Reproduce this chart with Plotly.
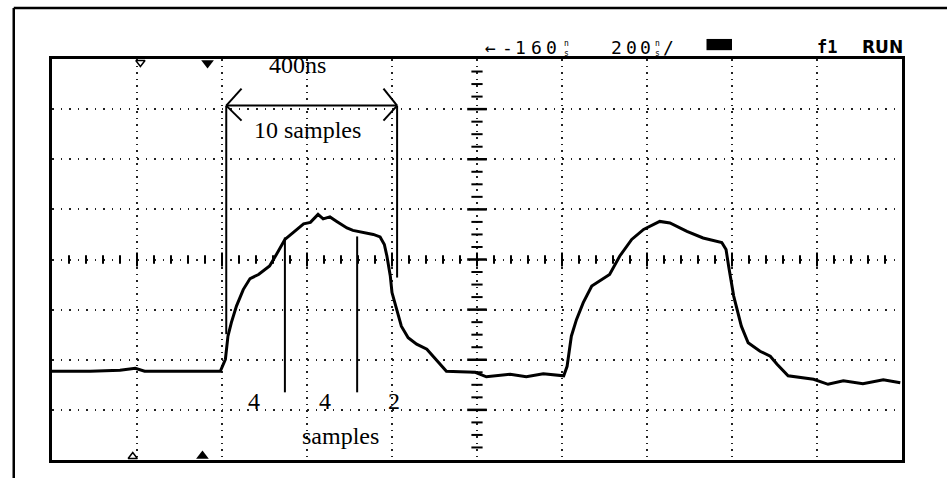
import numpy as np
import plotly.graph_objects as go

# Waveform trace (x in divisions from screen centre, y in divisions)
trace_x = [-5.0, -4.55, -4.20, -4.02, -3.91, -3.49, -3.14, -3.02, -2.96, -2.93, -2.89, -2.83,
           -2.75, -2.67, -2.57, -2.44, -2.36, -2.26, -2.16, -2.04, -1.96, -1.87, -1.81, -1.73,
           -1.65, -1.53, -1.46, -1.34, -1.22, -1.14, -1.09, -1.06, -1.04, -1.02, -1.00, -0.94,
           -0.89, -0.81, -0.71, -0.59, -0.47, -0.36, -0.20, -0.02, 0.11, 0.39, 0.58, 0.78,
           1.02, 1.06, 1.11, 1.17, 1.25, 1.35, 1.56, 1.68, 1.82, 1.96, 2.15, 2.27, 2.47, 2.66,
           2.88, 2.93, 2.96, 3.02, 3.11, 3.19, 3.33, 3.45, 3.53, 3.66, 3.96, 4.13, 4.31, 4.54,
           4.78, 4.98]
trace_y = [-2.23, -2.23, -2.21, -2.17, -2.23, -2.23, -2.23, -2.23, -1.99, -1.53, -1.26, -0.93,
           -0.60, -0.38, -0.30, -0.13, 0.10, 0.40, 0.54, 0.71, 0.74, 0.90, 0.81, 0.85,
           0.76, 0.63, 0.58, 0.54, 0.50, 0.45, 0.30, 0.07, -0.13, -0.33, -0.66, -1.00,
           -1.33, -1.56, -1.69, -1.79, -2.03, -2.23, -2.24, -2.25, -2.34, -2.29, -2.34, -2.28,
           -2.32, -2.13, -1.53, -1.20, -0.86, -0.53, -0.30, 0.07, 0.40, 0.60, 0.76, 0.73, 0.56, 0.43,
           0.34, 0.20, -0.13, -0.73, -1.33, -1.66, -1.83, -1.93, -2.09, -2.32, -2.39, -2.49, -2.42, -2.48,
           -2.40, -2.46]

# Sample marker lines: (x, y_top, y_bottom)
marker_x = [-2.95, -0.94, -2.26, -1.41]
marker_top = [3.07, 3.07, 0.44, 0.46]
marker_bottom = [-1.49, -0.36, -2.65, -2.65]

# Labels
span_label = "400ns"
samples_label = "10 samples"
count_labels = ["4", "4", "2"]
count_x = [-2.62, -1.79, -0.98]
offset_label = "\u2190-160"
scale_label = "200"
run_labels = ["f1", "RUN"]

fig = go.Figure()

# centre-axis tick marks
hx = np.round(np.arange(-5, 5.001, 0.2), 2)
hx_small = [v for v in hx if abs(v - round(v)) > 1e-6]
hx_big = [v for v in hx if abs(v - round(v)) <= 1e-6 and abs(v) < 5]
vy = np.round(np.arange(-4, 4.001, 0.25), 2)
vy_small = [v for v in vy if abs(v - round(v)) > 1e-6]
vy_big = [v for v in vy if abs(v - round(v)) <= 1e-6 and abs(v) < 4]

fig.add_trace(go.Scatter(x=hx_small, y=[0] * len(hx_small), mode="markers",
                         marker=dict(symbol="line-ns", size=6, line=dict(width=2, color="black")),
                         hoverinfo="skip", showlegend=False))
fig.add_trace(go.Scatter(x=hx_big, y=[0] * len(hx_big), mode="markers",
                         marker=dict(symbol="line-ns", size=10, line=dict(width=2, color="black")),
                         hoverinfo="skip", showlegend=False))
fig.add_trace(go.Scatter(x=[0] * len(vy_small), y=vy_small, mode="markers",
                         marker=dict(symbol="line-ew", size=8, line=dict(width=2, color="black")),
                         hoverinfo="skip", showlegend=False))
fig.add_trace(go.Scatter(x=[0] * len(vy_big), y=vy_big, mode="markers",
                         marker=dict(symbol="line-ew", size=14, line=dict(width=2.5, color="black")),
                         hoverinfo="skip", showlegend=False))

# waveform
fig.add_trace(go.Scatter(x=trace_x, y=trace_y, mode="lines",
                         line=dict(color="black", width=3),
                         hoverinfo="skip", showlegend=False))

# trigger markers on frame edges
fig.add_trace(go.Scatter(x=[-3.96], y=[3.93], mode="markers",
                         marker=dict(symbol="triangle-down-open", size=8, color="black",
                                     line=dict(width=1.5, color="black")),
                         cliponaxis=False, hoverinfo="skip", showlegend=False))
fig.add_trace(go.Scatter(x=[-3.17], y=[3.92], mode="markers",
                         marker=dict(symbol="triangle-down", size=11, color="black"),
                         cliponaxis=False, hoverinfo="skip", showlegend=False))
fig.add_trace(go.Scatter(x=[-4.05], y=[-3.93], mode="markers",
                         marker=dict(symbol="triangle-up-open", size=8, color="black",
                                     line=dict(width=1.5, color="black")),
                         cliponaxis=False, hoverinfo="skip", showlegend=False))
fig.add_trace(go.Scatter(x=[-3.23], y=[-3.92], mode="markers",
                         marker=dict(symbol="triangle-up", size=11, color="black"),
                         cliponaxis=False, hoverinfo="skip", showlegend=False))

shapes = []
for mx, t, b in zip(marker_x, marker_top, marker_bottom):
    shapes.append(dict(type="line", xref="x", yref="y", x0=mx, x1=mx, y0=b, y1=t,
                       line=dict(color="black", width=2)))
# double arrow
ax0, ax1, ay = marker_x[0], marker_x[1], 3.07
shapes.append(dict(type="line", xref="x", yref="y", x0=ax0, x1=ax1, y0=ay, y1=ay,
                   line=dict(color="black", width=2)))
for (tx, dx) in [(ax0, 0.18), (ax1, -0.16)]:
    for dy in (0.34, -0.30):
        shapes.append(dict(type="line", xref="x", yref="y", x0=tx, x1=tx + dx, y0=ay, y1=ay + dy,
                           line=dict(color="black", width=2)))
# header black box (paper coords, above plot area)
shapes.append(dict(type="rect", xref="paper", yref="paper", x0=0.770, x1=0.800, y0=1.022, y1=1.050,
                   fillcolor="black", line=dict(width=0)))
# outer frame (paper coordinates extend beyond plot area)
shapes.append(dict(type="line", xref="paper", yref="paper", x0=-0.045, x1=1.06, y0=1.127, y1=1.127,
                   line=dict(color="black", width=2.5)))
shapes.append(dict(type="line", xref="paper", yref="paper", x0=-0.045, x1=-0.045, y0=1.127, y1=-0.05,
                   line=dict(color="black", width=2.5)))

serif = "Liberation Serif"
mono = "DejaVu Sans Mono"
annotations = [
    dict(x=-2.11, y=3.88, text=span_label, showarrow=False, font=dict(family=serif, size=24, color="black")),
    dict(x=-2.00, y=2.59, text=samples_label, showarrow=False, font=dict(family=serif, size=24, color="black")),
    dict(x=-1.61, y=-3.53, text="samples", showarrow=False, font=dict(family=serif, size=24, color="black")),
]
for lbl, cx in zip(count_labels, count_x):
    annotations.append(dict(x=cx, y=-2.83, text=lbl, showarrow=False,
                            font=dict(family=serif, size=24, color="black")))

PLOT_L, PLOT_W, PLOT_B, PLOT_H = 52, 850, 460, 401


def hdr(px, py, text, size, family=mono):
    # px, py: screen-pixel centre of a header glyph, converted to paper coords
    return dict(xref="paper", yref="paper", x=(px - PLOT_L) / PLOT_W, y=(PLOT_B - py) / PLOT_H,
                text=text, showarrow=False, xanchor="center", yanchor="middle",
                font=dict(family=family, size=size, color="black"))


hdr_y = 47
off_centres = [490, 507, 520, 536, 551]
for ch, cx in zip(offset_label, off_centres):
    annotations.append(hdr(cx, hdr_y, ch, 18))
annotations.append(hdr(566, 48, "n<br>s", 8))
for ch, cx in zip(scale_label, [616, 631, 645]):
    annotations.append(hdr(cx, hdr_y, ch, 18))
annotations += [hdr(657, 48, "n<br>s", 8), hdr(668, hdr_y, "/", 18)]
annotations.append(hdr(827, hdr_y, "<b>" + run_labels[0] + "</b>", 17))
annotations.append(hdr(882, hdr_y, "<b>" + run_labels[1] + "</b>", 17, "DejaVu Sans"))

fig.update_layout(
    width=947, height=478,
    margin=dict(l=52, r=45, t=59, b=18),
    paper_bgcolor="white", plot_bgcolor="white",
    shapes=shapes, annotations=annotations,
    showlegend=False,
)
fig.update_xaxes(range=[-5, 5], dtick=1, tick0=0, showgrid=True, gridcolor="#222",
                 griddash="1.5px,5px", gridwidth=1.5, zeroline=False, showticklabels=False,
                 ticks="", showline=True, linecolor="black", linewidth=2.5, mirror=True,
                 fixedrange=True)
fig.update_yaxes(range=[-4, 4], dtick=1, tick0=0, showgrid=True, gridcolor="#222",
                 griddash="1.5px,7px", gridwidth=1.5, zeroline=False, showticklabels=False,
                 ticks="", showline=True, linecolor="black", linewidth=2.5, mirror=True,
                 fixedrange=True)

fig.write_html("out.html")
